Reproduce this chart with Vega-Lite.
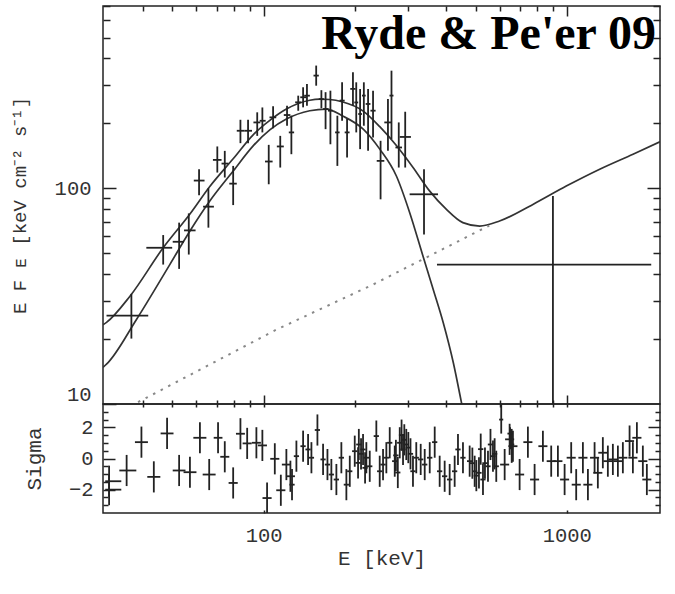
{
  "$schema": "https://vega.github.io/schema/vega-lite/v6.json",
  "background": "white",
  "padding": {"left": 9, "top": 4, "right": 5, "bottom": 5},
  "spacing": 0,
  "bounds": "flush",
  "config": {
    "view": {"stroke": "#222", "strokeWidth": 1.5},
    "axis": {
      "labelFont": "Liberation Mono", "titleFont": "Liberation Mono",
      "labelFontSize": 20.5, "titleFontSize": 21,
      "labelColor": "#333", "titleColor": "#333", "titleFontWeight": "normal",
      "tickColor": "#222", "tickWidth": 1.5, "domain": false, "grid": false,
      "labelOverlap": false
    }
  },
  "datasets": {
    "total": [
      {"E": 29.5, "F": 23.3}, {"E": 30.3, "F": 23.9}, {"E": 36.2, "F": 31.6}, {"E": 46.6, "F": 53},
      {"E": 57.1, "F": 76}, {"E": 66.4, "F": 102}, {"E": 79.3, "F": 137}, {"E": 92.3, "F": 177},
      {"E": 105, "F": 207}, {"E": 118.8, "F": 233}, {"E": 141.9, "F": 256}, {"E": 153, "F": 259},
      {"E": 165, "F": 258}, {"E": 181.4, "F": 252}, {"E": 213, "F": 228}, {"E": 241.5, "F": 193},
      {"E": 274, "F": 158}, {"E": 311, "F": 125}, {"E": 353, "F": 97}, {"E": 400, "F": 80},
      {"E": 454, "F": 69.3}, {"E": 516, "F": 66.8}, {"E": 600, "F": 70.5}, {"E": 773, "F": 84.2},
      {"E": 996, "F": 102.4}, {"E": 1284, "F": 122.6}, {"E": 1654, "F": 143.9}, {"E": 2063, "F": 166}
    ],
    "bb": [
      {"E": 29.5, "F": 14.8}, {"E": 30.3, "F": 15.3}, {"E": 38, "F": 24.6}, {"E": 49, "F": 44.3},
      {"E": 57.1, "F": 63.4}, {"E": 66.4, "F": 87.3}, {"E": 79.3, "F": 120.2}, {"E": 92.3, "F": 157.3},
      {"E": 105, "F": 187}, {"E": 118.8, "F": 209.4}, {"E": 141.9, "F": 228.8}, {"E": 161, "F": 233},
      {"E": 181.4, "F": 217}, {"E": 213, "F": 188}, {"E": 241.5, "F": 151.9}, {"E": 274, "F": 114},
      {"E": 303.2, "F": 77.1}, {"E": 335.5, "F": 48.4}, {"E": 362.7, "F": 33.9}, {"E": 391.6, "F": 23.7},
      {"E": 422.5, "F": 15.5}, {"E": 448.6, "F": 10.25}, {"E": 462, "F": 8.3}
    ],
    "pl": [
      {"E": 38.5, "F": 10.2}, {"E": 110, "F": 22.1}, {"E": 229.5, "F": 35.8}, {"E": 555, "F": 67.2}
    ],
    "spec": [
      {"E": 36.6, "F": 25.7, "Flo": 20.1, "Fhi": 32.4, "Elo": 30.3, "Ehi": 41.6},
      {"E": 46.6, "F": 53.0, "Flo": 44.3, "Fhi": 60.7, "Elo": 41.0, "Ehi": 49.9},
      {"E": 52.6, "F": 56.5, "Flo": 42.3, "Fhi": 69.3, "Elo": 50.1, "Ehi": 54.6},
      {"E": 56.6, "F": 63.8, "Flo": 49.3, "Fhi": 76.5, "Elo": 54.6, "Ehi": 59.6},
      {"E": 65.7, "F": 82.2, "Flo": 65.7, "Fhi": 100, "Elo": 63.1, "Ehi": 68.5},
      {"E": 61.2, "F": 108.6, "Flo": 92.8, "Fhi": 122.6, "Elo": 58.8, "Ehi": 63.8},
      {"E": 70.3, "F": 135.4, "Flo": 118.3, "Fhi": 156.3, "Elo": 68.0, "Ehi": 72.6},
      {"E": 74.4, "F": 130.2, "Flo": 112.2, "Fhi": 149.1, "Elo": 72.6, "Ehi": 76.5},
      {"E": 79.3, "F": 105.1, "Flo": 83.6, "Fhi": 127, "Elo": 77, "Ehi": 81.5},
      {"E": 103.9, "F": 133.1, "Flo": 104.4, "Fhi": 159, "Elo": 101, "Ehi": 107},
      {"E": 83.8, "F": 184.8, "Flo": 161.9, "Fhi": 207.8, "Elo": 81.5, "Ehi": 86.3},
      {"E": 88.8, "F": 184.8, "Flo": 161.9, "Fhi": 207.8, "Elo": 86.3, "Ehi": 91.5},
      {"E": 95.2, "F": 202, "Flo": 175, "Fhi": 225, "Elo": 92.5, "Ehi": 97.5},
      {"E": 99, "F": 205.6, "Flo": 181.6, "Fhi": 237, "Elo": 97, "Ehi": 101.5},
      {"E": 107.4, "F": 213.2, "Flo": 189.6, "Fhi": 239.9, "Elo": 104.5, "Ehi": 110},
      {"E": 113.4, "F": 156.3, "Flo": 124.8, "Fhi": 175, "Elo": 110.5, "Ehi": 116.5},
      {"E": 119.4, "F": 218.6, "Flo": 195, "Fhi": 241.4, "Elo": 116.5, "Ehi": 122.5},
      {"E": 123.4, "F": 181.6, "Flo": 143.9, "Fhi": 217, "Elo": 121, "Ehi": 126},
      {"E": 130, "F": 250.4, "Flo": 228.8, "Fhi": 268.8, "Elo": 127, "Ehi": 133},
      {"E": 134.9, "F": 264.2, "Flo": 237.3, "Fhi": 294, "Elo": 132, "Ehi": 138},
      {"E": 138.9, "F": 268.8, "Flo": 241.4, "Fhi": 304.6, "Elo": 136, "Ehi": 142},
      {"E": 149, "F": 333, "Flo": 299, "Fhi": 370.6, "Elo": 146, "Ehi": 152},
      {"E": 155, "F": 259, "Flo": 235, "Fhi": 285, "Elo": 152, "Ehi": 158},
      {"E": 160, "F": 233, "Flo": 188, "Fhi": 279, "Elo": 157, "Ehi": 163.5},
      {"E": 166, "F": 229, "Flo": 160, "Fhi": 283.5, "Elo": 163, "Ehi": 169},
      {"E": 175, "F": 181.6, "Flo": 127, "Fhi": 217, "Elo": 172, "Ehi": 178},
      {"E": 181.4, "F": 255, "Flo": 205.6, "Fhi": 310, "Elo": 178, "Ehi": 185},
      {"E": 188.4, "F": 181.6, "Flo": 139, "Fhi": 209.4, "Elo": 185, "Ehi": 192},
      {"E": 197, "F": 289, "Flo": 241.4, "Fhi": 345, "Elo": 193, "Ehi": 201},
      {"E": 202, "F": 250, "Flo": 181.6, "Fhi": 310, "Elo": 199, "Ehi": 205},
      {"E": 208, "F": 221, "Flo": 151.9, "Fhi": 288.7, "Elo": 205, "Ehi": 211},
      {"E": 214, "F": 269, "Flo": 195, "Fhi": 310, "Elo": 211, "Ehi": 217},
      {"E": 221, "F": 246, "Flo": 149.1, "Fhi": 288.7, "Elo": 217, "Ehi": 225},
      {"E": 229.5, "F": 229, "Flo": 172.1, "Fhi": 283.5, "Elo": 225, "Ehi": 234},
      {"E": 243, "F": 134, "Flo": 88.9, "Fhi": 166, "Elo": 236, "Ehi": 250},
      {"E": 257, "F": 202, "Flo": 149.1, "Fhi": 259.4, "Elo": 250, "Ehi": 264},
      {"E": 264, "F": 269, "Flo": 169, "Fhi": 351, "Elo": 260, "Ehi": 268},
      {"E": 279, "F": 154.6, "Flo": 124.8, "Fhi": 202, "Elo": 272, "Ehi": 286},
      {"E": 293, "F": 173, "Flo": 124.8, "Fhi": 226.4, "Elo": 281, "Ehi": 306},
      {"E": 338, "F": 93.8, "Flo": 61.1, "Fhi": 122.6, "Elo": 303, "Ehi": 376},
      {"E": 900, "F": 44.3, "Flo": 5, "Fhi": 92.1, "Elo": 373, "Ehi": 1899}
    ],
    "resid": [
      {"E": 30.9, "s": -1.46, "slo": -2.46, "shi": -0.46, "Elo": 30.0, "Ehi": 33.9},
      {"E": 30.9, "s": -2.0, "slo": -3.0, "shi": -1.0, "Elo": 30.0, "Ehi": 33.9},
      {"E": 35.3, "s": -0.77, "slo": -1.77, "shi": 0.23, "Elo": 33.4, "Ehi": 38.0},
      {"E": 39.5, "s": 1.05, "slo": 0.05, "shi": 2.05, "Elo": 37.6, "Ehi": 41.5},
      {"E": 43.4, "s": -1.18, "slo": -2.18, "shi": -0.18, "Elo": 41.3, "Ehi": 45.6},
      {"E": 48.0, "s": 1.61, "slo": 0.61, "shi": 2.61, "Elo": 45.7, "Ehi": 50.4},
      {"E": 52.6, "s": -0.77, "slo": -1.77, "shi": 0.23, "Elo": 50.1, "Ehi": 55.2},
      {"E": 57.1, "s": -0.88, "slo": -1.88, "shi": 0.12, "Elo": 54.4, "Ehi": 60.0},
      {"E": 61.6, "s": 1.33, "slo": 0.33, "shi": 2.33, "Elo": 58.6, "Ehi": 64.7},
      {"E": 66.1, "s": -1.03, "slo": -2.03, "shi": -0.03, "Elo": 62.9, "Ehi": 69.4},
      {"E": 70.7, "s": 1.33, "slo": 0.33, "shi": 2.33, "Elo": 68.4, "Ehi": 73.1},
      {"E": 74.4, "s": 0.11, "slo": -0.89, "shi": 1.11, "Elo": 71.9, "Ehi": 77.0},
      {"E": 79.3, "s": -1.57, "slo": -2.57, "shi": -0.57, "Elo": 76.6, "Ehi": 82.1},
      {"E": 83.8, "s": 1.59, "slo": 0.59, "shi": 2.59, "Elo": 81.0, "Ehi": 86.7},
      {"E": 88.2, "s": 0.97, "slo": -0.03, "shi": 1.97, "Elo": 85.2, "Ehi": 91.3},
      {"E": 94.6, "s": 1.01, "slo": 0.01, "shi": 2.01, "Elo": 91.4, "Ehi": 97.9},
      {"E": 99.0, "s": 0.84, "slo": -0.16, "shi": 1.84, "Elo": 95.7, "Ehi": 102.5},
      {"E": 102.6, "s": -2.54, "slo": -3.54, "shi": -1.54, "Elo": 99.1, "Ehi": 106.2},
      {"E": 108.8, "s": -0.02, "slo": -1.02, "shi": 0.98, "Elo": 105.1, "Ehi": 112.6},
      {"E": 113.9, "s": -2.04, "slo": -3.04, "shi": -1.04, "Elo": 110.0, "Ehi": 117.9},
      {"E": 118.8, "s": -0.39, "slo": -1.39, "shi": 0.61, "Elo": 114.8, "Ehi": 123.0},
      {"E": 122.5, "s": -1.14, "slo": -2.14, "shi": -0.14, "Elo": 118.4, "Ehi": 126.8},
      {"E": 124.0, "s": -1.68, "slo": -2.68, "shi": -0.68, "Elo": 121.6, "Ehi": 126.5},
      {"E": 128.2, "s": 0.15, "slo": -0.85, "shi": 1.15, "Elo": 125.7, "Ehi": 130.8},
      {"E": 134.9, "s": 0.79, "slo": -0.21, "shi": 1.79, "Elo": 132.2, "Ehi": 137.6},
      {"E": 140.1, "s": 0.58, "slo": -0.42, "shi": 1.58, "Elo": 137.3, "Ehi": 142.9},
      {"E": 143.7, "s": 0.05, "slo": -0.95, "shi": 1.05, "Elo": 140.8, "Ehi": 146.6},
      {"E": 150.4, "s": 1.83, "slo": 0.83, "shi": 2.83, "Elo": 147.4, "Ehi": 153.4},
      {"E": 157.0, "s": -0.06, "slo": -1.06, "shi": 0.94, "Elo": 153.9, "Ehi": 160.1},
      {"E": 162.3, "s": -0.39, "slo": -1.39, "shi": 0.61, "Elo": 159.1, "Ehi": 165.5},
      {"E": 167.2, "s": -1.03, "slo": -2.03, "shi": -0.03, "Elo": 163.9, "Ehi": 170.5},
      {"E": 173.7, "s": -1.35, "slo": -2.35, "shi": -0.35, "Elo": 170.2, "Ehi": 177.2},
      {"E": 180.4, "s": 0.05, "slo": -0.95, "shi": 1.05, "Elo": 176.8, "Ehi": 184.0},
      {"E": 187.4, "s": -1.68, "slo": -2.68, "shi": -0.68, "Elo": 183.7, "Ehi": 191.1},
      {"E": 192.3, "s": -0.82, "slo": -1.82, "shi": 0.18, "Elo": 188.5, "Ehi": 196.1},
      {"E": 199.7, "s": 0.47, "slo": -0.53, "shi": 1.47, "Elo": 195.7, "Ehi": 203.7},
      {"E": 204.8, "s": -0.28, "slo": -1.28, "shi": 0.72, "Elo": 200.7, "Ehi": 208.9},
      {"E": 206, "s": 0.9, "slo": -0.1, "shi": 1.9, "Elo": 201.9, "Ehi": 210.1},
      {"E": 209.5, "s": 0.3, "slo": -0.7, "shi": 1.3, "Elo": 205.3, "Ehi": 213.7},
      {"E": 212.7, "s": 0.58, "slo": -0.42, "shi": 1.58, "Elo": 208.4, "Ehi": 217.0},
      {"E": 216, "s": -0.6, "slo": -1.6, "shi": 0.4, "Elo": 211.7, "Ehi": 220.3},
      {"E": 218.1, "s": 0.05, "slo": -0.95, "shi": 1.05, "Elo": 213.7, "Ehi": 222.5},
      {"E": 223.8, "s": -0.5, "slo": -1.5, "shi": 0.5, "Elo": 219.3, "Ehi": 228.3},
      {"E": 235.3, "s": 1.44, "slo": 0.44, "shi": 2.44, "Elo": 230.6, "Ehi": 240.0},
      {"E": 241.4, "s": -0.82, "slo": -1.82, "shi": 0.18, "Elo": 236.6, "Ehi": 246.2},
      {"E": 247.6, "s": -0.39, "slo": -1.39, "shi": 0.61, "Elo": 242.6, "Ehi": 252.6},
      {"E": 253.9, "s": 0.05, "slo": -0.95, "shi": 1.05, "Elo": 248.8, "Ehi": 259.0},
      {"E": 260.5, "s": 1.01, "slo": 0.01, "shi": 2.01, "Elo": 255.3, "Ehi": 265.7},
      {"E": 270.6, "s": -0.17, "slo": -1.17, "shi": 0.83, "Elo": 265.2, "Ehi": 276.0},
      {"E": 273, "s": 0.2, "slo": -0.8, "shi": 1.2, "Elo": 267.5, "Ehi": 278.5},
      {"E": 277, "s": -0.9, "slo": -1.9, "shi": 0.1, "Elo": 271.5, "Ehi": 282.5},
      {"E": 281.1, "s": 1.01, "slo": 0.01, "shi": 2.01, "Elo": 275.5, "Ehi": 286.7},
      {"E": 285, "s": 1.5, "slo": 0.5, "shi": 2.5, "Elo": 279.3, "Ehi": 290.7},
      {"E": 288.2, "s": 0.58, "slo": -0.42, "shi": 1.58, "Elo": 282.4, "Ehi": 294.0},
      {"E": 291, "s": 1.2, "slo": 0.2, "shi": 2.2, "Elo": 285.2, "Ehi": 296.8},
      {"E": 295.4, "s": 0.9, "slo": -0.1, "shi": 1.9, "Elo": 289.5, "Ehi": 301.3},
      {"E": 300, "s": 0.7, "slo": -0.3, "shi": 1.7, "Elo": 294, "Ehi": 306},
      {"E": 305, "s": 0.3, "slo": -0.7, "shi": 1.3, "Elo": 298.9, "Ehi": 311.1},
      {"E": 310.8, "s": -0.82, "slo": -1.82, "shi": 0.18, "Elo": 304.6, "Ehi": 317.0},
      {"E": 318.7, "s": 0.05, "slo": -0.95, "shi": 1.05, "Elo": 312.3, "Ehi": 325.1},
      {"E": 329.6, "s": -0.06, "slo": -1.06, "shi": 0.94, "Elo": 323.0, "Ehi": 336.2},
      {"E": 339.8, "s": -0.39, "slo": -1.39, "shi": 0.61, "Elo": 333.0, "Ehi": 346.6},
      {"E": 353.0, "s": 0.05, "slo": -0.95, "shi": 1.05, "Elo": 345.9, "Ehi": 360.1},
      {"E": 366.6, "s": 1.05, "slo": 0.05, "shi": 2.05, "Elo": 359.3, "Ehi": 373.9},
      {"E": 380.7, "s": -0.82, "slo": -1.82, "shi": 0.18, "Elo": 373.1, "Ehi": 388.3},
      {"E": 395.4, "s": -1.14, "slo": -2.14, "shi": -0.14, "Elo": 387.5, "Ehi": 403.3},
      {"E": 410.7, "s": -1.35, "slo": -2.35, "shi": -0.35, "Elo": 402.5, "Ehi": 418.9},
      {"E": 426.6, "s": -0.82, "slo": -1.82, "shi": 0.18, "Elo": 418.1, "Ehi": 435.1},
      {"E": 437.5, "s": 0.58, "slo": -0.42, "shi": 1.58, "Elo": 428.8, "Ehi": 446.3},
      {"E": 454.4, "s": 0.05, "slo": -0.95, "shi": 1.05, "Elo": 445.3, "Ehi": 463.5},
      {"E": 478.1, "s": -0.17, "slo": -1.17, "shi": 0.83, "Elo": 468.5, "Ehi": 487.7},
      {"E": 488, "s": -0.3, "slo": -1.3, "shi": 0.7, "Elo": 478.2, "Ehi": 497.8},
      {"E": 496.6, "s": -0.82, "slo": -1.82, "shi": 0.18, "Elo": 486.7, "Ehi": 506.5},
      {"E": 503, "s": -1.1, "slo": -2.1, "shi": -0.1, "Elo": 492.9, "Ehi": 513.1},
      {"E": 513.1, "s": -0.92, "slo": -1.92, "shi": 0.08, "Elo": 502.8, "Ehi": 523.4},
      {"E": 520, "s": 0.6, "slo": -0.4, "shi": 1.6, "Elo": 509.6, "Ehi": 530.4},
      {"E": 529.0, "s": -1.35, "slo": -2.35, "shi": -0.35, "Elo": 518.4, "Ehi": 539.6},
      {"E": 537, "s": -0.3, "slo": -1.3, "shi": 0.7, "Elo": 526.3, "Ehi": 547.7},
      {"E": 549.5, "s": -0.5, "slo": -1.5, "shi": 0.5, "Elo": 538.5, "Ehi": 560.5},
      {"E": 560, "s": 0.9, "slo": -0.1, "shi": 1.9, "Elo": 548.8, "Ehi": 571.2},
      {"E": 570.7, "s": 0.15, "slo": -0.85, "shi": 1.15, "Elo": 559.3, "Ehi": 582.1},
      {"E": 578, "s": 0.3, "slo": -0.7, "shi": 1.3, "Elo": 566.4, "Ehi": 589.6},
      {"E": 585.2, "s": -0.5, "slo": -1.5, "shi": 0.5, "Elo": 573.5, "Ehi": 596.9},
      {"E": 607.7, "s": 2.5, "slo": 1.6, "shi": 3.6, "Elo": 598, "Ehi": 617},
      {"E": 623.7, "s": -0.39, "slo": -1.39, "shi": 0.61, "Elo": 602.6, "Ehi": 645.5},
      {"E": 647.7, "s": 1.23, "slo": 0.23, "shi": 2.23, "Elo": 625.8, "Ehi": 670.4},
      {"E": 650, "s": 1.6, "slo": 0.6, "shi": 2.0, "Elo": 637, "Ehi": 663},
      {"E": 658, "s": 0.9, "slo": -0.28, "shi": 1.9, "Elo": 645, "Ehi": 671},
      {"E": 664.2, "s": 0.79, "slo": -0.21, "shi": 1.79, "Elo": 641.7, "Ehi": 687.4},
      {"E": 698.8, "s": -1.03, "slo": -2.03, "shi": -0.03, "Elo": 675.1, "Ehi": 723.3},
      {"E": 744.1, "s": 1.05, "slo": 0.05, "shi": 2.05, "Elo": 718.9, "Ehi": 770.1},
      {"E": 783.0, "s": -1.35, "slo": -2.35, "shi": -0.35, "Elo": 756.5, "Ehi": 810.4},
      {"E": 834.0, "s": 0.79, "slo": -0.21, "shi": 1.79, "Elo": 805.8, "Ehi": 863.2},
      {"E": 888.3, "s": -0.17, "slo": -1.17, "shi": 0.83, "Elo": 858.2, "Ehi": 919.4},
      {"E": 934.6, "s": -0.17, "slo": -1.17, "shi": 0.83, "Elo": 903.0, "Ehi": 967.3},
      {"E": 983.5, "s": -1.35, "slo": -2.35, "shi": -0.35, "Elo": 950.2, "Ehi": 1017.9},
      {"E": 1034, "s": 0.05, "slo": -0.95, "shi": 1.05, "Elo": 999, "Ehi": 1070},
      {"E": 1074, "s": -1.68, "slo": -2.68, "shi": -0.68, "Elo": 1038, "Ehi": 1112},
      {"E": 1130, "s": 0.05, "slo": -0.95, "shi": 1.05, "Elo": 1092, "Ehi": 1170},
      {"E": 1174, "s": -1.68, "slo": -2.68, "shi": -0.68, "Elo": 1134, "Ehi": 1215},
      {"E": 1235, "s": 0.05, "slo": -0.95, "shi": 1.05, "Elo": 1193, "Ehi": 1278},
      {"E": 1266, "s": -0.92, "slo": -1.92, "shi": 0.08, "Elo": 1223, "Ehi": 1310},
      {"E": 1315, "s": 0.37, "slo": -0.63, "shi": 1.37, "Elo": 1270, "Ehi": 1361},
      {"E": 1366, "s": -0.17, "slo": -1.17, "shi": 0.83, "Elo": 1320, "Ehi": 1414},
      {"E": 1419, "s": -0.06, "slo": -1.06, "shi": 0.94, "Elo": 1371, "Ehi": 1469},
      {"E": 1474, "s": -0.17, "slo": -1.17, "shi": 0.83, "Elo": 1424, "Ehi": 1526},
      {"E": 1531, "s": 0.05, "slo": -0.95, "shi": 1.05, "Elo": 1479, "Ehi": 1585},
      {"E": 1611, "s": 1.12, "slo": 0.12, "shi": 2.12, "Elo": 1556, "Ehi": 1667},
      {"E": 1652, "s": 0.05, "slo": -0.95, "shi": 1.05, "Elo": 1596, "Ehi": 1710},
      {"E": 1703, "s": 1.33, "slo": 0.33, "shi": 2.33, "Elo": 1645, "Ehi": 1763},
      {"E": 1782, "s": -0.17, "slo": -1.17, "shi": 0.83, "Elo": 1721, "Ehi": 1844},
      {"E": 1837, "s": -1.35, "slo": -2.35, "shi": -0.35, "Elo": 1775, "Ehi": 1901}
    ]
  },
  "vconcat": [
    {
      "width": 557,
      "height": 398,
      "title": {
        "text": "Ryde & Pe'er 09", "font": "Liberation Serif", "fontSize": 48, "fontWeight": "bold",
        "color": "black", "anchor": "end", "frame": "group", "orient": "top", "offset": -54, "dx": -4
      },
      "resolve": {"axis": {"x": "independent", "y": "independent"}},
      "layer": [
        {
          "data": {"name": "total"},
          "mark": {"type": "line", "stroke": "#333", "strokeWidth": 1.7, "clip": true, "interpolate": "monotone"},
          "encoding": {
            "x": {
              "field": "E", "type": "quantitative",
              "scale": {"type": "log", "domain": [29.5, 2030], "nice": false},
              "axis": {
                "orient": "bottom", "title": null, "labels": false,
                "values": [40, 50, 60, 70, 80, 90, 100, 200, 300, 400, 500, 600, 700, 800, 900, 1000],
                "tickSize": {"condition": {"test": "datum.value == 100 || datum.value == 1000", "value": -9}, "value": -4}
              }
            },
            "y": {
              "field": "F", "type": "quantitative",
              "scale": {"type": "log", "domain": [10, 700], "nice": false},
              "axis": {
                "orient": "left", "title": "E F ᴇ [keV cm⁻² s⁻¹]", "titleFontSize": 19,
                "values": [10, 20, 30, 40, 50, 60, 70, 80, 90, 100, 200, 300, 400, 500, 600, 700],
                "labelExpr": "datum.value == 100 ? '100' : datum.value == 10 ? '10' : ''",
                "labelFlush": true,
                "tickSize": {"condition": {"test": "datum.value == 100 || datum.value == 10", "value": -13}, "value": -7},
                "labelPadding": 25, "titlePadding": 25
              }
            }
          }
        },
        {
          "data": {"name": "bb"},
          "mark": {"type": "line", "stroke": "#333", "strokeWidth": 1.7, "clip": true, "interpolate": "monotone"},
          "encoding": {
            "x": {
              "field": "E", "type": "quantitative",
              "axis": {
                "orient": "top", "title": null, "labels": false,
                "values": [40, 50, 60, 70, 80, 90, 100, 200, 300, 400, 500, 600, 700, 800, 900, 1000],
                "tickSize": {"condition": {"test": "datum.value == 100 || datum.value == 1000", "value": -10}, "value": -5}
              }
            },
            "y": {
              "field": "F", "type": "quantitative",
              "axis": {
                "orient": "right", "title": null, "labels": false,
                "values": [20, 30, 40, 50, 60, 70, 80, 90, 100, 200, 300, 400, 500, 600, 700],
                "tickSize": {"condition": {"test": "datum.value == 100", "value": -13}, "value": -7}
              }
            }
          }
        },
        {
          "data": {"name": "pl"},
          "mark": {"type": "line", "stroke": "#888", "strokeWidth": 2, "strokeDash": [2.5, 6], "clip": true},
          "encoding": {
            "x": {"field": "E", "type": "quantitative", "axis": null},
            "y": {"field": "F", "type": "quantitative", "axis": null}
          }
        },
        {
          "data": {"name": "spec"},
          "mark": {"type": "rule", "stroke": "#222", "strokeWidth": 1.8, "clip": true},
          "encoding": {
            "x": {"field": "E", "type": "quantitative", "axis": null},
            "y": {"field": "Flo", "type": "quantitative", "axis": null},
            "y2": {"field": "Fhi"}
          }
        },
        {
          "data": {"name": "spec"},
          "mark": {"type": "rule", "stroke": "#222", "strokeWidth": 1.8, "clip": true},
          "encoding": {
            "x": {"field": "Elo", "type": "quantitative", "axis": null},
            "x2": {"field": "Ehi"},
            "y": {"field": "F", "type": "quantitative", "axis": null}
          }
        }
      ]
    },
    {
      "width": 557,
      "height": 109,
      "resolve": {"axis": {"x": "independent", "y": "independent"}},
      "layer": [
        {
          "data": {"name": "resid"},
          "mark": {"type": "rule", "stroke": "#222", "strokeWidth": 1.8, "clip": true},
          "encoding": {
            "x": {
              "field": "E", "type": "quantitative",
              "scale": {"type": "log", "domain": [29.5, 2030], "nice": false},
              "axis": {
                "orient": "bottom", "title": "E [keV]", "values": [100, 1000],
                "labelExpr": "datum.value == 100 ? '100' : '1000'",
                "tickSize": -3, "labelPadding": 15, "titlePadding": 2
              }
            },
            "y": {
              "field": "slo", "type": "quantitative",
              "scale": {"domain": [-3.5, 3.5], "nice": false, "zero": false},
              "axis": {
                "orient": "left", "title": "Sigma",
                "values": [-3, -2.5, -2, -1.5, -1, -0.5, 0, 0.5, 1, 1.5, 2, 2.5, 3],
                "labelExpr": "datum.value == 2 ? '2' : datum.value == 0 ? '0' : datum.value == -2 ? '−2' : ''",
                "tickSize": {"condition": {"test": "datum.value == 2 || datum.value == 0 || datum.value == -2", "value": -12}, "value": -5},
                "labelPadding": 22, "titlePadding": 24
              }
            },
            "y2": {"field": "shi"}
          }
        },
        {
          "data": {"name": "resid"},
          "mark": {"type": "rule", "stroke": "#222", "strokeWidth": 1.8, "clip": true},
          "encoding": {
            "x": {
              "field": "Elo", "type": "quantitative",
              "axis": {
                "orient": "top", "title": null, "labels": false,
                "values": [40, 50, 60, 70, 80, 90, 100, 200, 300, 400, 500, 600, 700, 800, 900, 1000],
                "tickSize": -3
              }
            },
            "x2": {"field": "Ehi"},
            "y": {
              "field": "s", "type": "quantitative",
              "axis": {
                "orient": "right", "title": null, "labels": false,
                "values": [-3, -2.5, -2, -1.5, -1, -0.5, 0, 0.5, 1, 1.5, 2, 2.5, 3],
                "tickSize": {"condition": {"test": "datum.value == 2 || datum.value == 0 || datum.value == -2", "value": -12}, "value": -5}
              }
            }
          }
        },
        {
          "mark": {"type": "rule", "stroke": "#333", "strokeWidth": 1.3, "strokeDash": [4, 4]},
          "encoding": {
            "y": {"datum": 0, "type": "quantitative", "axis": null}
          }
        }
      ]
    }
  ]
}
